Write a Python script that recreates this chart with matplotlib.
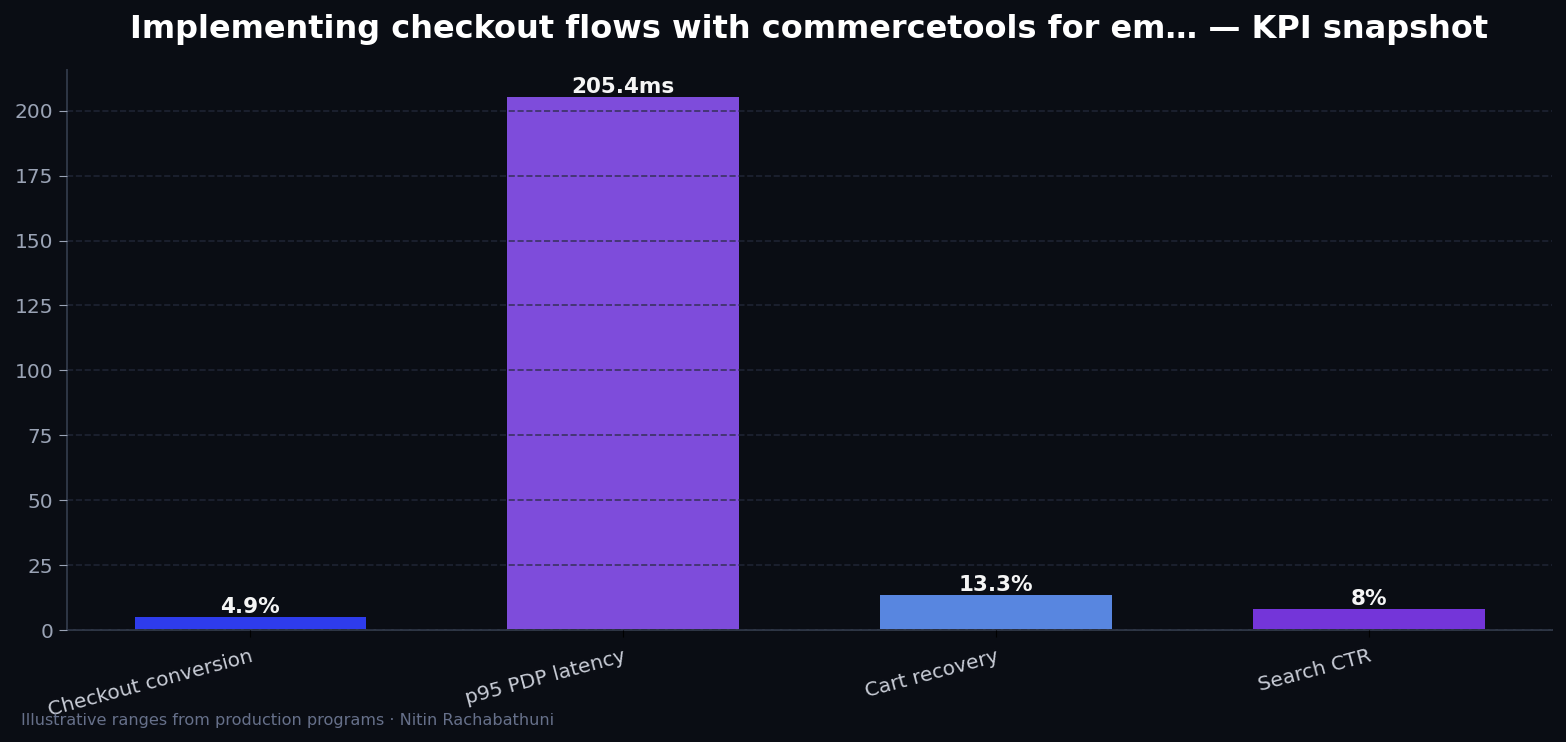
import matplotlib
matplotlib.use("Agg")
import matplotlib.pyplot as plt

categories = ["Checkout conversion", "p95 PDP latency", "Cart recovery", "Search CTR"]
values = [4.9, 205.4, 13.3, 8.0]
labels = ["4.9%", "205.4ms", "13.3%", "8%"]
colors = ["#2e3cec", "#7e4cdb", "#5886e0", "#7435d9"]

BG = "#0a0d14"
fig = plt.figure(figsize=(15.66, 7.42), dpi=100, facecolor=BG)
ax = fig.add_axes([67/1566, 1-630/742, (1552-67)/1566, (630-70)/742])
ax.set_facecolor(BG)

x = list(range(len(categories)))
bars = ax.bar(x, values, width=0.62, color=colors, zorder=2)
for xi, v, lab in zip(x, values, labels):
    ax.text(xi, v, lab, ha="center", va="bottom", color="#f5f5f5",
            fontsize=15.5, fontweight="bold", zorder=4)

ax.set_xticks(x)
ax.set_xticklabels(categories, rotation=15, ha="right", rotation_mode="anchor",
                   color="#c8ccd6", fontsize=14.5)
ax.tick_params(axis="x", colors="black", labelcolor="#c8ccd6", length=5, pad=7)
ax.tick_params(axis="y", colors="#9aa3b5", labelsize=14.5, labelcolor="#9aa3b5",
               length=6, pad=4)
ax.grid(axis="y", linestyle="--", color="#252a3c", alpha=0.75, linewidth=1.2, zorder=3)
ax.set_axisbelow(False)
for s in ["top", "right"]:
    ax.spines[s].set_visible(False)
for s in ["left", "bottom"]:
    ax.spines[s].set_color("#2f3746")
    ax.spines[s].set_linewidth(1.4)

ax.set_title("Implementing checkout flows with commercetools for em\u2026 \u2014 KPI snapshot",
             color="white", fontsize=23, fontweight="bold", pad=23)
fig.text(21/1566, 1-720/742, "Illustrative ranges from production programs \u00b7 Nitin Rachabathuni",
         color="#66708a", fontsize=11.6, va="center")

fig.savefig("out.png", dpi=100, facecolor=BG)
